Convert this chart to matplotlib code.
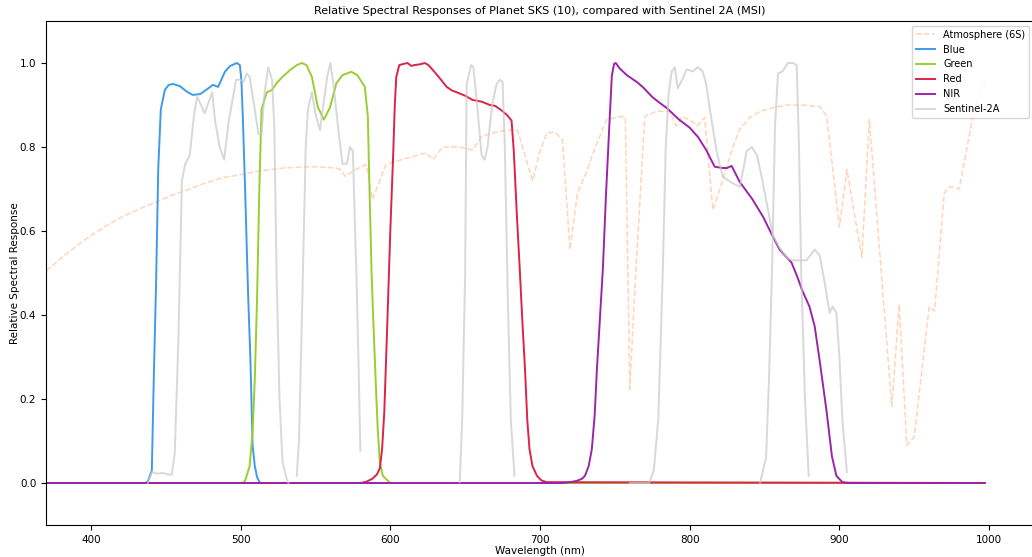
import matplotlib
matplotlib.use("Agg")
import matplotlib.pyplot as plt

# 6S atmosphere transmission
atm_wl = [370, 380, 390, 399, 410, 421, 432, 444, 455, 466, 477, 488, 500, 510, 519.5,
          528, 540, 551, 564, 567, 570, 575, 580, 584, 588, 593, 597, 600, 612, 624,
          628.5, 635, 646, 655, 661, 670, 678, 685, 690, 695, 700, 704.5, 710, 715, 720,
          725, 731, 737, 744.5, 754.5, 757, 760, 763, 770, 778, 786.6, 791, 795, 802,
          805, 810, 815.5, 822, 828, 833, 840, 847, 855, 865, 875, 887, 891.5, 900, 905,
          915, 920, 935, 940, 945, 950, 960, 963.6, 970, 973.6, 980, 990, 997]
atm = [0.505, 0.535, 0.563, 0.587, 0.612, 0.634, 0.652, 0.67, 0.686, 0.70, 0.715, 0.727,
       0.734, 0.742, 0.746, 0.75, 0.752, 0.753, 0.75, 0.745, 0.73, 0.742, 0.752, 0.758,
       0.675, 0.72, 0.758, 0.762, 0.774, 0.786, 0.77, 0.80, 0.80, 0.793, 0.825, 0.835,
       0.84, 0.84, 0.78, 0.72, 0.79, 0.833, 0.836, 0.817, 0.556, 0.69, 0.74, 0.80, 0.865,
       0.873, 0.87, 0.223, 0.44, 0.873, 0.885, 0.885, 0.85, 0.873, 0.86, 0.85, 0.87, 0.65,
       0.72, 0.79, 0.84, 0.87, 0.885, 0.893, 0.90, 0.90, 0.896, 0.873, 0.61, 0.746, 0.537,
       0.865, 0.183, 0.425, 0.09, 0.11, 0.42, 0.41, 0.69, 0.706, 0.70, 0.888, 0.96]

# Planet SKS bands
blue_wl = [370, 436, 438, 440.7, 442, 443.5, 445, 446.7, 449.4, 452, 455, 459.4, 464, 468,
           473, 477, 481.5, 485, 489.5, 493, 497.5, 499.5, 500.5, 501.5, 503, 505, 506.5,
           508, 509.5, 511, 513, 997]
blue = [0, 0, 0.003, 0.03, 0.25, 0.47, 0.75, 0.89, 0.936, 0.948, 0.95, 0.945, 0.932, 0.924,
        0.926, 0.936, 0.948, 0.943, 0.979, 0.993, 1.0, 0.995, 0.96, 0.87, 0.7, 0.45, 0.3,
        0.09, 0.04, 0.014, 0, 0]

green_wl = [370, 501, 503, 506, 508, 509.5, 511, 512.5, 514, 517.5, 521, 524, 528, 533,
            537.5, 541, 544, 547.6, 551.6, 555.6, 559.6, 564, 568, 574, 578, 583, 585, 586,
            587.5, 588.5, 590.5, 591.6, 593, 595, 600, 997]
green = [0, 0, 0.005, 0.04, 0.12, 0.25, 0.44, 0.7, 0.89, 0.93, 0.936, 0.952, 0.967, 0.983,
         0.995, 1.0, 0.995, 0.967, 0.895, 0.865, 0.893, 0.952, 0.971, 0.979, 0.971, 0.943,
         0.872, 0.715, 0.5, 0.4, 0.22, 0.128, 0.05, 0.017, 0, 0]

red_wl = [370, 580, 584, 588, 591, 593, 594.5, 596, 598, 600, 602, 603, 604, 606, 609, 611.5,
          614, 616, 620, 623, 625.5, 628.5, 633, 637.7, 641, 646, 650, 655, 661, 666.5, 670,
          674, 678, 681, 682.5, 684.6, 686.5, 688, 690, 691.5, 693, 695, 698, 701, 704.5, 997]
red = [0, 0, 0.003, 0.01, 0.02, 0.035, 0.08, 0.17, 0.38, 0.6, 0.79, 0.9, 0.967, 0.995, 0.998,
       1.0, 0.993, 0.995, 0.997, 1.0, 0.995, 0.983, 0.964, 0.943, 0.935, 0.928, 0.922, 0.912,
       0.908, 0.90, 0.898, 0.888, 0.876, 0.863, 0.79, 0.634, 0.508, 0.40, 0.27, 0.15, 0.08,
       0.04, 0.017, 0.006, 0.002, 0]

nir_wl = [370, 715, 720, 724.5, 728, 730, 732.5, 734.6, 736.5, 738, 740, 742, 744, 746.6,
          748, 749.5, 750.6, 753, 758, 764.6, 768.6, 775, 780, 784.6, 793, 800, 805.5, 811,
          816.7, 822, 825, 828, 833.4, 842, 849, 855.5, 860, 864, 868, 872, 875, 880, 883.5,
          887, 891.5, 895, 898, 902, 906, 997]
nir = [0, 0, 0.002, 0.005, 0.01, 0.017, 0.04, 0.08, 0.16, 0.27, 0.39, 0.51, 0.68, 0.872,
       0.97, 0.998, 1.0, 0.988, 0.971, 0.955, 0.943, 0.919, 0.905, 0.893, 0.865, 0.846, 0.824,
       0.793, 0.753, 0.75, 0.75, 0.755, 0.717, 0.675, 0.634, 0.587, 0.556, 0.54, 0.525, 0.49,
       0.46, 0.42, 0.373, 0.287, 0.169, 0.064, 0.017, 0.002, 0, 0]

# Sentinel-2A MSI bands (B2, B3, B4, B8, B8A)
s2_b2_wl = [438, 440.7, 444, 448, 452, 454, 456, 458.5, 460.8, 463, 466, 469, 471, 473.5, 476,
            479, 481, 483, 486, 489, 492, 495, 497, 500, 502, 504, 506, 509, 512, 514, 516,
            518.5, 521, 522.5, 524, 526, 528, 531, 532]
s2_b2 = [0, 0.026, 0.022, 0.024, 0.02, 0.02, 0.07, 0.35, 0.72, 0.76, 0.78, 0.88, 0.92, 0.90,
         0.88, 0.91, 0.93, 0.86, 0.80, 0.77, 0.86, 0.92, 0.96, 0.96, 0.955, 0.975, 0.967, 0.90,
         0.83, 0.83, 0.93, 0.99, 0.96, 0.85, 0.5, 0.2, 0.05, 0.007, 0]
s2_b3_wl = [537.5, 539, 541.5, 543.5, 545, 547.6, 550, 553, 556, 558, 560, 562, 565, 568, 571,
            573, 575, 576.5, 577.5, 579, 580]
s2_b3 = [0.017, 0.1, 0.48, 0.8, 0.89, 0.93, 0.88, 0.84, 0.92, 0.97, 1.0, 0.95, 0.85, 0.76,
         0.76, 0.80, 0.79, 0.6, 0.48, 0.25, 0.077]
s2_b4_wl = [646.4, 648, 650, 651, 654, 655.5, 658, 661, 663, 665, 668, 671, 673, 675, 676.5,
            678.5, 680.5, 683]
s2_b4 = [0.002, 0.15, 0.5, 0.95, 0.995, 0.99, 0.9, 0.78, 0.77, 0.8, 0.9, 0.95, 0.96, 0.955,
         0.8, 0.44, 0.15, 0.017]
s2_b8_wl = [760, 773, 776, 779, 782, 784, 786, 788, 790, 792, 795, 798, 802, 805.5, 808.7, 811,
            813, 818, 822, 828, 833.4, 836, 838, 841.5, 845, 848, 851, 855.5, 860, 865, 869,
            878, 883.5, 887, 890, 893.5, 895.5, 898, 900, 902, 905]
s2_b8 = [0, 0, 0.03, 0.15, 0.5, 0.8, 0.93, 0.98, 0.99, 0.94, 0.96, 0.985, 0.98, 0.99, 0.98,
         0.95, 0.90, 0.79, 0.73, 0.715, 0.705, 0.75, 0.79, 0.80, 0.78, 0.73, 0.675, 0.59, 0.56,
         0.535, 0.53, 0.53, 0.556, 0.54, 0.48, 0.405, 0.42, 0.405, 0.3, 0.15, 0.026]
s2_b8a_wl = [847, 851, 853, 855, 857, 859, 862, 865.5, 869, 871.5, 873, 874.5, 877, 879.5]
s2_b8a = [0, 0.06, 0.25, 0.51, 0.85, 0.975, 0.98, 1.0, 1.0, 0.995, 0.8, 0.5, 0.2, 0.017]

sentinel = [(s2_b2_wl, s2_b2), (s2_b3_wl, s2_b3), (s2_b4_wl, s2_b4),
            (s2_b8_wl, s2_b8), (s2_b8a_wl, s2_b8a)]

plt.rcParams['font.size'] = 7.5

fig = plt.figure(figsize=(10.32, 5.57), dpi=100)
ax = fig.add_axes([46 / 1032, 32 / 557, 988 / 1032, 504 / 557])

ax.plot(atm_wl, atm, '--', color='#ffb380', alpha=0.55, lw=1.1, label='Atmosphere (6S)')
ax.plot(blue_wl, blue, color='#3d9be9', lw=1.4, label='Blue')
ax.plot(green_wl, green, color='#9acd32', lw=1.4, label='Green')
ax.plot(red_wl, red, color='#dc2349', lw=1.4, label='Red')
ax.plot(nir_wl, nir, color='#9c24a8', lw=1.4, label='NIR')
for i, (wl, rsr) in enumerate(sentinel):
    ax.plot(wl, rsr, color='#c8c8c8', alpha=0.7, lw=1.4,
            label='Sentinel-2A' if i == 0 else None)

ax.set_xlim(370, 1030)
ax.set_ylim(-0.1, 1.1)
ax.set_xlabel('Wavelength (nm)', labelpad=1)
ax.set_ylabel('Relative Spectral Response', labelpad=0)
ax.set_title('Relative Spectral Responses of Planet SKS (10), compared with Sentinel 2A (MSI)',
             fontsize=8, pad=5)
ax.legend(loc='upper right', fontsize=7)

fig.savefig('out.png', dpi=100)
